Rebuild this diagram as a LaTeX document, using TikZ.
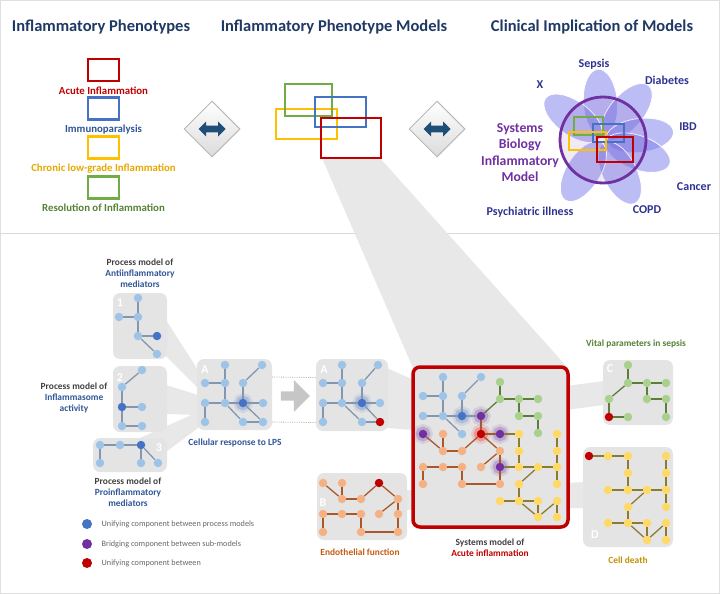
\documentclass[tikz,border=0pt]{standalone}
\usepackage{fontspec}
\setmainfont{Carlito}
\usetikzlibrary{positioning, shapes.geometric, shapes.arrows}

\definecolor{titleblue}{HTML}{1F3864}
\definecolor{acred}{HTML}{C00000}
\definecolor{imblue}{HTML}{4472C4}
\definecolor{imtext}{HTML}{2F5597}
\definecolor{chyellow}{HTML}{FFC000}
\definecolor{chtext}{HTML}{E6A800}
\definecolor{regreen}{HTML}{70AD47}
\definecolor{retext}{HTML}{548235}
\definecolor{sbpurple}{HTML}{7030A0}
\definecolor{disease}{HTML}{2E3192}
\definecolor{petal}{HTML}{7B7BEB}
\definecolor{btnblue}{HTML}{1F4E79}
\definecolor{boxgray}{HTML}{E4E4E4}
\definecolor{bandgray}{HTML}{E8E8E8}
\definecolor{txtgray}{HTML}{404040}
\definecolor{nblue}{HTML}{9DC3E6}
\definecolor{ngreen}{HTML}{A9D18E}
\definecolor{norange}{HTML}{F4B183}
\definecolor{nyellow}{HTML}{FFD966}
\definecolor{lblue}{HTML}{8497B0}
\definecolor{lgreen}{HTML}{5E7C3A}
\definecolor{lorange}{HTML}{A9582B}
\definecolor{lyellow}{HTML}{8C7B35}
\definecolor{deathtext}{HTML}{BF9000}
\definecolor{endotext}{HTML}{C55A11}

\begin{document}
\begin{tikzpicture}[x=1pt, y=-1pt,
  every node/.style={font=\bfseries},
  title/.style={font=\fontsize{16.5}{20}\selectfont\bfseries, text=titleblue},
  phen/.style={draw=#1, line width=2.6pt, minimum width=31pt, minimum height=22pt, inner sep=0pt},
  mrect/.style={draw=#1, line width=2.6pt, inner sep=0pt},
  frect/.style={draw=#1, line width=2pt, inner sep=0pt},
  plabel/.style={font=\fontsize{10.8}{12}\selectfont\bfseries, inner sep=0pt},
  dlabel/.style={font=\fontsize{12}{14}\selectfont\bfseries, text=disease},
  button/.style={diamond, minimum size=56pt, inner sep=0pt, top color=white, bottom color=gray!28, draw=gray!55, line width=1pt},
  btnarrow/.style={double arrow, fill=btnblue, minimum height=27pt, minimum width=15pt, double arrow head extend=4pt, inner sep=3pt},
  pbox/.style={rounded corners=7pt, fill=boxgray, inner sep=0pt},
  boxid/.style={text=white, font=\fontsize{12}{14}\selectfont\bfseries},
  smalltxt/.style={font=\fontsize{9.4}{11}\selectfont\bfseries, align=center},
  legendtxt/.style={font=\fontsize{8.2}{10}\selectfont, text=gray!80!black},
  nd/.style={circle, inner sep=0pt, minimum size=8.5pt},
  glow/.style={preaction={draw=#1, line width=11pt, draw opacity=.12}, preaction={draw=#1, line width=6pt, draw opacity=.25}},
  linkb/.style={draw=lblue, line width=1.3pt},
  linkg/.style={draw=lgreen, line width=1.3pt},
  linko/.style={draw=lorange, line width=1.3pt},
  linky/.style={draw=lyellow, line width=1.3pt},
  band/.style={fill=bandgray},
  dotline/.style={densely dotted, draw=gray!60, line width=.8pt}
]
\useasboundingbox (0,0) rectangle (720,594);
\draw[gray!25] (0.5,0.5) rectangle (719.5,593.5);
\draw[gray!30, line width=1pt] (0,233) -- (720,233);

% 灰色投影
\fill[band] (322,158) -- (380,158) -- (568,368) -- (413,368) -- cycle;
\fill[band] (166,320) -- (198,370) -- (198,388) -- (166,356) -- cycle;
\fill[band] (166,385) -- (198,395) -- (198,415) -- (166,414) -- cycle;
\fill[band] (140,438) -- (198,412) -- (198,428) -- (166,452) -- cycle;
\fill[band] (387,368) -- (414,380) -- (414,430) -- (387,428) -- cycle;
\fill[band] (405,490) -- (414,490) -- (414,510) -- (405,510) -- cycle;
\fill[band] (566,386) -- (604,381) -- (604,405) -- (566,410) -- cycle;
\fill[band] (566,483) -- (584,482) -- (584,508) -- (566,508) -- cycle;

% 标题
\node[title] (tphen) at (101,27) {Inflammatory Phenotypes};
\node[title] (tmod) at (334,27) {Inflammatory Phenotype Models};
\node[title] (tclin) at (592,27) {Clinical Implication of Models};

% 左列
\node[phen=acred] (acute) at (103.5,70) {};
\node[phen=imblue] (immuno) at (103.5,108.5) {};
\node[phen=chyellow] (chronic) at (103.5,147.5) {};
\node[phen=regreen] (resol) at (103.5,187.5) {};
\node[plabel, text=acred, below=4pt of acute] (acutetxt) {Acute Inflammation};
\node[plabel, text=imtext, below=4pt of immuno] (immunotxt) {Immunoparalysis};
\node[plabel, text=chtext, below=4pt of chronic] (chronictxt) {Chronic low-grade Inflammation};
\node[plabel, text=retext, below=4pt of resol] (resoltxt) {Resolution of Inflammation};

% 中列
\node[mrect=chyellow, minimum width=61pt, minimum height=30pt] (mody) at (306.5,124) {};
\node[mrect=regreen, minimum width=47pt, minimum height=32pt] (modg) at (308.5,100) {};
\node[mrect=imblue, minimum width=51pt, minimum height=30pt] (modb) at (340.5,112) {};
\node[mrect=acred, minimum width=60pt, minimum height=40pt] (modr) at (351,138) {};

\node[button] (btn1) at (212,129) {};
\node[btnarrow] at (btn1) {};
\node[button] (btn2) at (437,129) {};
\node[btnarrow] at (btn2) {};

% 花
\foreach \a in {94,50,7,-20,-63,-122,144}
  \fill[petal, fill opacity=.5, draw=white, line width=.8pt, shift={(603,140)}, rotate=\a] (37pt,0pt) ellipse (34pt and 17pt);
\node[circle, draw=sbpurple, line width=2.8pt, minimum size=86pt, fill=sbpurple, fill opacity=.1] (sbm) at (603,140) {};
\node[frect=regreen, minimum width=29pt, minimum height=18pt] (fg) at (588.5,126) {};
\node[frect=imblue, minimum width=31pt, minimum height=18pt] (fb) at (608.5,133) {};
\node[frect=chyellow, minimum width=37pt, minimum height=18pt] (fy) at (587.5,141) {};
\node[frect=acred, minimum width=36pt, minimum height=25pt] (fr) at (615,149.5) {};
\node[dlabel] (sepsis) at (594,64) {Sepsis};
\node[dlabel] (diab) at (667,80) {Diabetes};
\node[dlabel] (xx) at (540,85) {X};
\node[dlabel] (ibd) at (688,127) {IBD};
\node[dlabel] (cancer) at (694,187) {Cancer};
\node[dlabel] (copd) at (647,210) {COPD};
\node[dlabel] (psych) at (530,212) {Psychiatric illness};
\node[align=center, text=sbpurple, font=\fontsize{13.7}{16.3}\selectfont\bfseries] (sbtxt) at (520,152.5) {Systems\\Biology\\Inflammatory\\Model};

% 下部方框
\node[pbox, minimum width=54pt, minimum height=66pt] (box1) at (140,326) {};
\node[pbox, minimum width=54pt, minimum height=66pt] (box2) at (140,399) {};
\node[pbox, minimum width=74pt, minimum height=34pt] (box3) at (130,455) {};
\node[pbox, minimum width=75pt, minimum height=71pt] (boxA1) at (234.5,394.5) {};
\node[pbox, minimum width=72pt, minimum height=72pt] (boxA2) at (352,395) {};
\node[pbox, minimum width=90pt, minimum height=67pt] (boxB) at (362,506.5) {};
\node[pbox, minimum width=70pt, minimum height=65pt] (boxC) at (638,392.5) {};
\node[pbox, minimum width=90pt, minimum height=100pt] (boxD) at (628,497) {};
\node[pbox, draw=acred, line width=3.5pt, minimum width=155pt, minimum height=160pt] (sys) at (490.5,447) {};

\node[boxid] at (120,303) {1};
\node[boxid] at (120,378) {2};
\node[boxid] at (159,448) {3};
\node[boxid] at (205,370) {A};
\node[boxid] at (324,370) {A};
\node[boxid] at (323,503) {B};
\node[boxid] at (610,369) {C};
\node[boxid] at (595,535) {D};

\draw[dotline] ([yshift=17.5pt]boxA1.east) -- ([yshift=17.5pt]boxA2.west);
\draw[dotline] ([yshift=-27.5pt]boxA1.east) -- ([yshift=-27.5pt]boxA2.west);
\node[single arrow, fill=gray!45, minimum height=29pt, minimum width=32pt, single arrow head extend=8pt, inner sep=3pt] (lps) at (293,396) {};

% 过程模型 1 2 3
\foreach \n/\x/\y in {m1a/138/298, m1b/119/317, m1c/138/317, m1d/138/336, m1f/157/354, m2a/142/370, m2b/122/387, m2d/142/407, m2e/122/426, m2f/142/426, m3a/100/445, m3b/120/445, m3d/100/463, m3e/141/463, m3f/158/463}
  \node[nd, fill=nblue] (\n) at (\x,\y) {};
\foreach \n/\x/\y in {m1e/157/336, m2c/122/407, m3c/141/445}
  \node[nd, fill=imblue] (\n) at (\x,\y) {};
\foreach \a/\b in {m1a/m1c, m1b/m1c, m1c/m1d, m1d/m1e, m1d/m1f, m2a/m2b, m2b/m2c, m2c/m2d, m2c/m2e, m2e/m2f, m3a/m3b, m3b/m3c, m3a/m3d, m3c/m3e, m3c/m3f}
  \draw[linkb] (\a) -- (\b);

% A
\foreach \n/\x/\y in {aa/225/365, ab/262/365, ac/205/383, ad/225/383, ae/243/383, af/205/403, ag/225/403, ai/263/403, aj/205/422, ak/243/422, al/263/422,
  xa/342/365, xb/378/365, xc/323/383, xd/342/383, xe/362/383, xf/323/403, xg/342/403, xi/380/403, xj/323/422, xk/362/422}
  \node[nd, fill=nblue] (\n) at (\x,\y) {};
\node[nd, fill=imblue, glow=imblue] (ah) at (243,403) {};
\node[nd, fill=imblue, glow=imblue] (xh) at (362,403) {};
\node[nd, fill=acred] (xl) at (380,422) {};
\foreach \p in {a,x}
  \foreach \a/\b in {a/d, c/d, d/g, b/e, e/h, f/g, g/h, h/i, f/j, g/k, h/l, k/l}
    \draw[linkb] (\p\a) -- (\p\b);

% B
\foreach \n/\x/\y in {ea/323/483, eb/342/483, ed/342/499, ee/361/499, ef/398/499, eg/323/514, eh/342/514, ei/361/514, ej/379/514, ek/398/514, el/323/532, em/361/532, en/398/532}
  \node[nd, fill=norange] (\n) at (\x,\y) {};
\node[nd, fill=acred] (ec) at (379,483) {};
\foreach \a/\b in {ea/ed, eb/ed, ed/ee, ee/ec, ec/ef, ef/ej, ef/ek, ek/en, eg/eh, eh/ei, eg/el, ei/em, em/en}
  \draw[linko] (\a) -- (\b);

% C
\foreach \n/\x/\y in {ca/628/365, cb/628/383, cc/647/383, cd/666/383, ce/609/399, cf/647/399, cg/666/399, ci/628/417, cj/666/417}
  \node[nd, fill=ngreen] (\n) at (\x,\y) {};
\node[nd, fill=acred] (ch) at (609,417) {};
\foreach \a/\b in {ca/cb, cb/cc, cc/cd, cb/ce, ce/ch, ch/ci, cc/cf, cf/cg, cg/cj}
  \draw[linkg] (\a) -- (\b);

% D
\foreach \n/\x/\y in {d2/608/456, d3/628/456, d4/666/456, d5/628/473, d6/666/473, d7/608/490, d8/628/490, d9/647/490, d10/666/490, d11/628/507, d12/666/507, d13/608/523, d14/628/523, d15/647/523, d16/666/523, d17/647/540, d18/666/540}
  \node[nd, fill=nyellow] (\n) at (\x,\y) {};
\node[nd, fill=acred] (d1) at (589,456) {};
\foreach \a/\b in {d1/d2, d2/d3, d3/d5, d5/d8, d7/d8, d8/d9, d9/d10, d4/d6, d6/d10, d10/d12, d9/d11, d11/d14, d13/d14, d14/d15, d14/d17, d15/d17, d17/d16, d16/d18}
  \draw[linky] (\a) -- (\b);

% 系统模型
\foreach \n/\x/\y in {s1/443/377, s2/481/377, s3/423/396, s4/443/396, s5/462/396, s6/423/416, s7/443/416, s9/462/434}
  \node[nd, fill=nblue] (\n) at (\x,\y) {};
\foreach \n/\x/\y in {s15/500/382, s16/500/399, s17/519/399, s18/538/399, s19/519/416, s20/538/416, s21/538/433}
  \node[nd, fill=ngreen] (\n) at (\x,\y) {};
\foreach \n/\x/\y in {s22/443/434, s23/443/451, s24/462/451, s25/500/451, s26/481/467, s27/423/467, s28/443/467, s29/462/467, s30/423/484, s31/462/484, s32/500/484}
  \node[nd, fill=norange] (\n) at (\x,\y) {};
\foreach \n/\x/\y in {s33/519/434, s34/557/434, s35/519/451, s36/557/451, s37/519/467, s38/538/467, s39/557/467, s40/519/484, s41/557/484, s42/500/501, s43/519/501, s44/538/501, s45/557/501, s46/538/517, s47/557/517}
  \node[nd, fill=nyellow] (\n) at (\x,\y) {};
\node[nd, fill=imblue, glow=imblue] (s8) at (462,416) {};
\foreach \n/\x/\y in {s10/481/416, s11/423/434, s12/500/434, s13/500/467}
  \node[nd, fill=sbpurple, glow=sbpurple] (\n) at (\x,\y) {};
\node[nd, fill=acred, glow=red] (s14) at (481,434) {};

\foreach \a/\b in {s1/s4, s2/s5, s3/s4, s4/s7, s5/s8, s6/s7, s7/s8, s7/s9, s8/s10}
  \draw[linkb] (\a) -- (\b);
\foreach \a/\b in {s10/s16, s15/s16, s16/s17, s17/s18, s17/s19, s19/s20, s20/s21}
  \draw[linkg] (\a) -- (\b);
\foreach \a/\b in {s10/s14, s14/s12, s11/s23, s22/s23, s23/s24, s24/s14, s14/s25, s25/s13, s25/s26, s27/s28, s28/s29, s27/s30, s29/s31, s31/s32, s32/s13}
  \draw[linko] (\a) -- (\b);
\foreach \a/\b in {s12/s33, s13/s37, s37/s38, s38/s39, s33/s35, s35/s37, s34/s36, s36/s39, s39/s41, s38/s40, s40/s43, s42/s43, s43/s44, s43/s46, s44/s46, s46/s45, s45/s47}
  \draw[linky] (\a) -- (\b);

% 文字
\node[smalltxt] (lab1) at (140,273) {\textcolor{txtgray}{Process model of}\\\textcolor{imtext}{Antiinflammatory}\\\textcolor{imtext}{mediators}};
\node[smalltxt] (lab2) at (74,398) {\textcolor{txtgray}{Process model of}\\\textcolor{imtext}{Inflammasome}\\\textcolor{imtext}{activity}};
\node[smalltxt] (lab3) at (128,492) {\textcolor{txtgray}{Process model of}\\\textcolor{imtext}{Proinflammatory}\\\textcolor{imtext}{mediators}};
\node[smalltxt, text=imtext] (labA) at (235,443) {Cellular response to LPS};
\node[smalltxt] (labS) at (490,548) {\textcolor{txtgray}{Systems model of}\\\textcolor{acred}{Acute inflammation}};
\node[smalltxt, text=endotext] (labB) at (360,552) {Endothelial function};
\node[smalltxt, text=retext] (labC) at (636,344) {Vital parameters in sepsis};
\node[smalltxt, text=deathtext] (labD) at (628,560) {Cell death};

% 图例
\node[nd, minimum size=10pt, fill=imblue] (lg1) at (87,524) {};
\node[nd, minimum size=10pt, fill=sbpurple] (lg2) at (87,544) {};
\node[nd, minimum size=10pt, fill=acred] (lg3) at (87,563) {};
\node[legendtxt, right=6pt of lg1] {Unifying component between process models};
\node[legendtxt, right=6pt of lg2] {Bridging component between sub-models};
\node[legendtxt, right=6pt of lg3] {Unifying component between};
\end{tikzpicture}
\end{document}
